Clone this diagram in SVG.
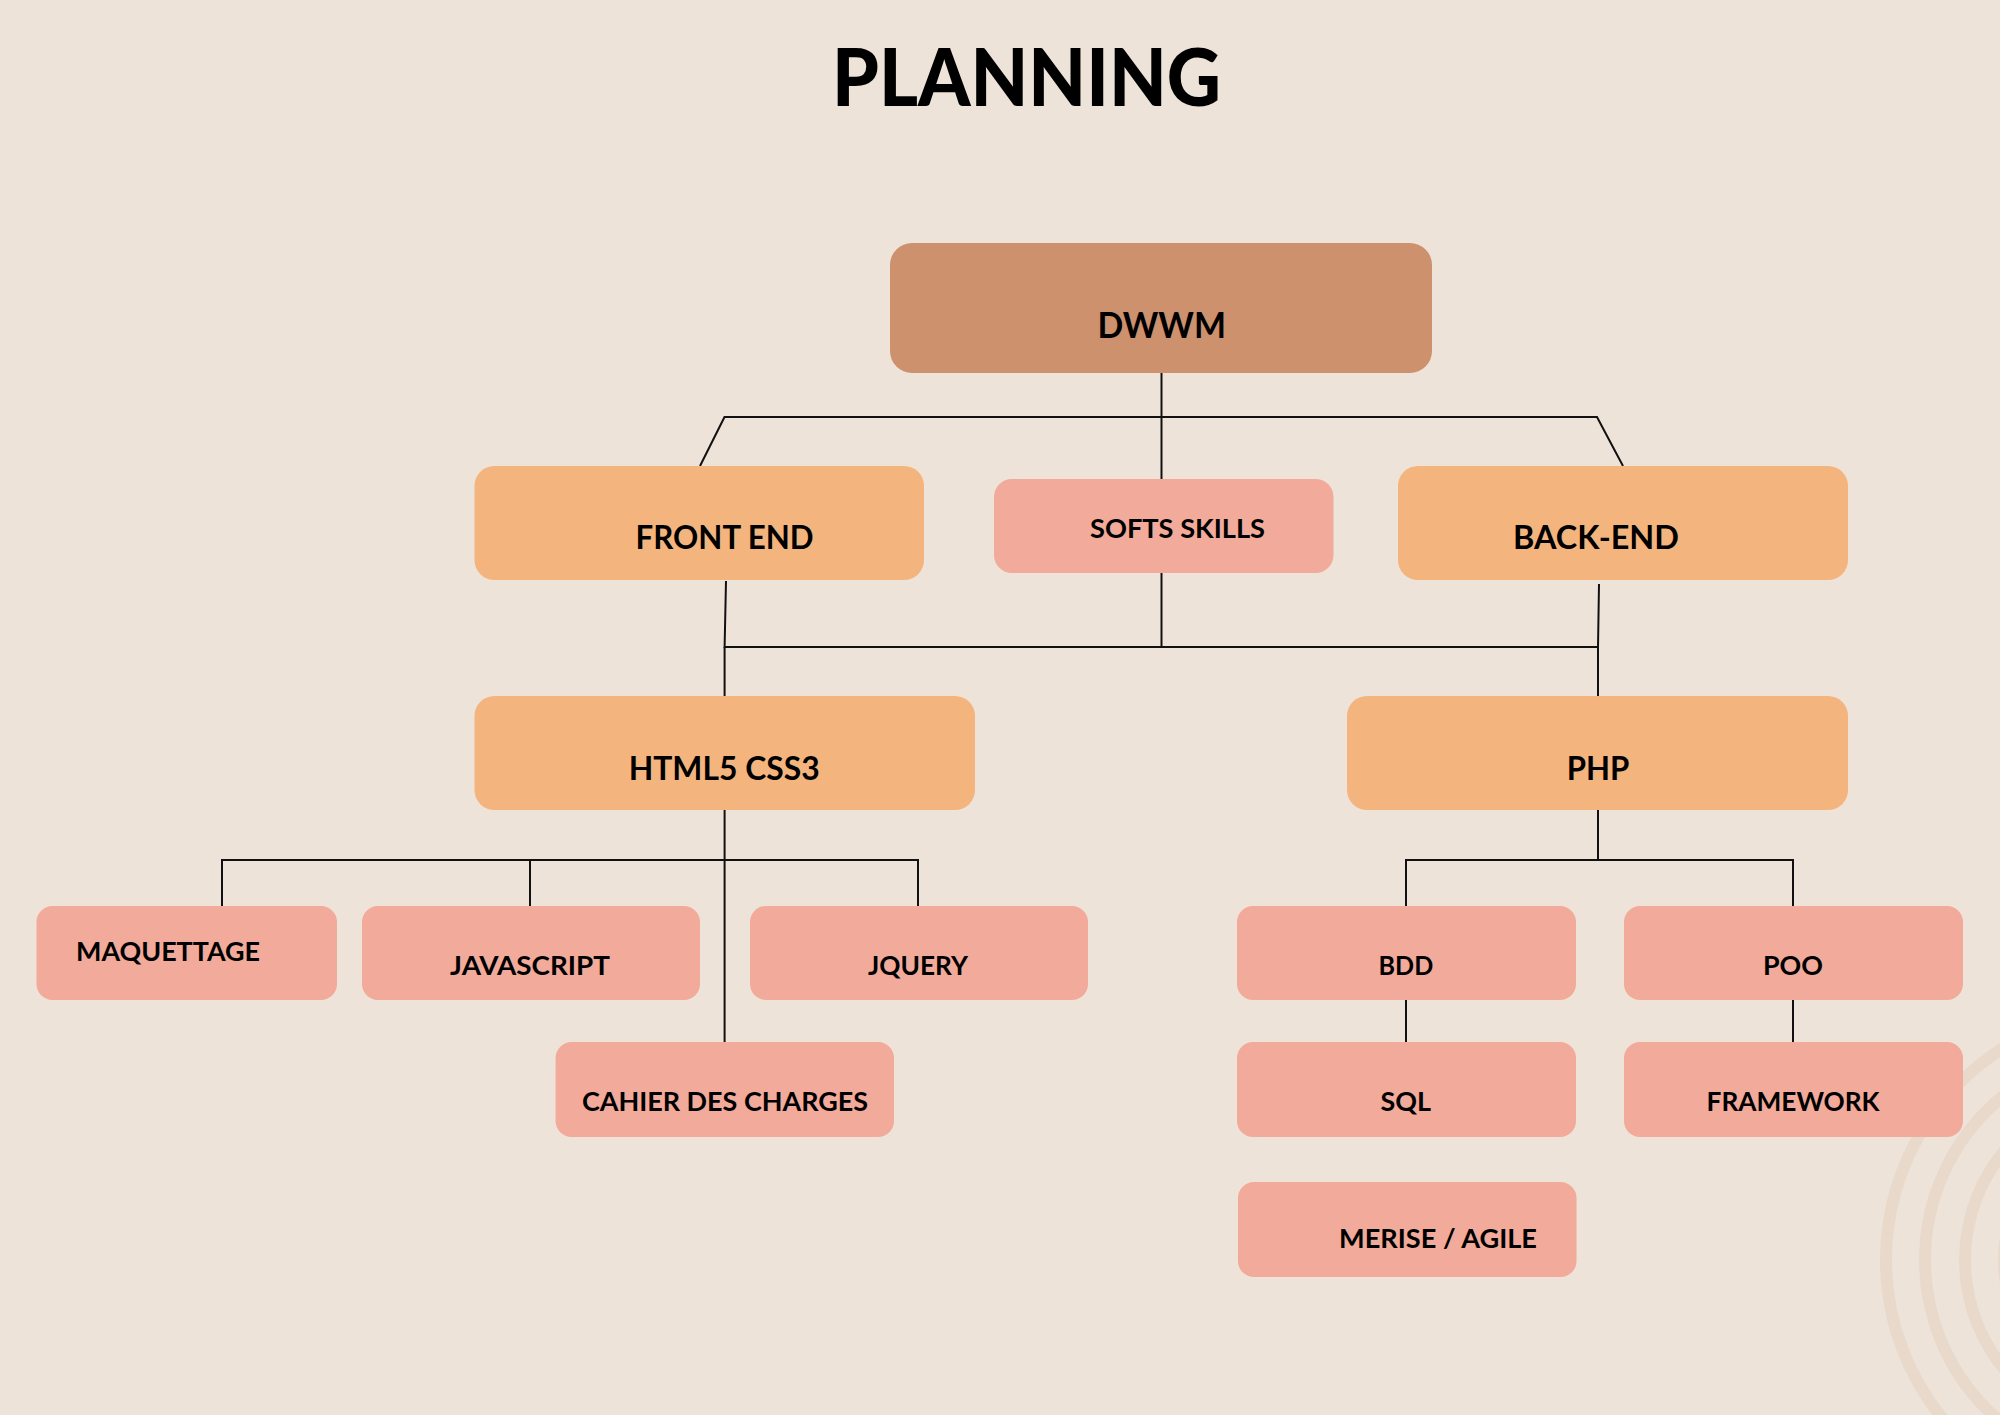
<svg xmlns="http://www.w3.org/2000/svg" width="2000" height="1415" viewBox="0 0 2000 1415">
<style>
  .bg { fill: #EEE3D9; }
  .ring { fill: none; stroke: #E9D9CB; stroke-width: 12; }
  .root { fill: #CD916E; }
  .orange { fill: #F4B47E; }
  .pink { fill: #F2AA9A; }
  text { font-family: Lato, "Liberation Sans", Arial, sans-serif; font-weight: 700; fill: #000; }
  .title { font-size: 80px; font-weight: 900; }
  .l0 { font-size: 37px; }
  .l1 { font-size: 32px; }
  .ss { font-size: 26px; }
  .sm { font-size: 26px; }
  .conn { stroke: #111; stroke-width: 2; fill: none; stroke-linejoin: miter; }
</style>
<rect class="bg" x="0" y="0" width="2000" height="1415"/>
<g id="decor">
  <circle class="ring" cx="2136" cy="1260" r="250"/>
  <circle class="ring" cx="2136" cy="1260" r="211"/>
  <circle class="ring" cx="2136" cy="1260" r="171"/>
  <circle class="ring" cx="2136" cy="1260" r="132"/>
</g>
<text id="title" class="title" x="832" y="106" textLength="389" lengthAdjust="spacingAndGlyphs">PLANNING</text>
<g id="connectors" class="conn">
  <path d="M1161.5 373 V479"/>
  <path d="M700 466 L724.5 417 H1597 L1623 466"/>
  <path d="M726 581 L724.6 647 H1598 L1599 584"/>
  <path d="M1161.5 573 V647"/>
  <path d="M724.6 647 V696"/>
  <path d="M1598 647 V696"/>
  <path d="M724.6 810 V1042"/>
  <path d="M222 906 V860 H918 V906"/>
  <path d="M530 860 V906"/>
  <path d="M1598 810 V860"/>
  <path d="M1406 906 V860 H1793 V906"/>
  <path d="M1406 1000 V1042"/>
  <path d="M1793 1000 V1042"/>
</g>
<g id="node-dwwm">
  <rect class="root" x="890" y="243" width="542" height="130" rx="22"/>
  <text class="l0" x="1097.5" y="338" textLength="128.5" lengthAdjust="spacingAndGlyphs">DWWM</text>
</g>
<g id="node-front-end">
  <rect class="orange" x="474.5" y="466" width="449.5" height="114" rx="20"/>
  <text class="l1" x="635.6" y="549" textLength="178" lengthAdjust="spacingAndGlyphs">FRONT END</text>
</g>
<g id="node-softs-skills">
  <rect class="pink" x="994" y="479" width="339.5" height="94" rx="18"/>
  <text class="ss" x="1090" y="538" textLength="175" lengthAdjust="spacingAndGlyphs">SOFTS SKILLS</text>
</g>
<g id="node-back-end">
  <rect class="orange" x="1398" y="466" width="450" height="114" rx="20"/>
  <text class="l1" x="1513" y="549" textLength="166" lengthAdjust="spacingAndGlyphs">BACK-END</text>
</g>
<g id="node-html5-css3">
  <rect class="orange" x="474.5" y="696" width="500.5" height="114" rx="20"/>
  <text class="l1" x="628.7" y="780" textLength="191" lengthAdjust="spacingAndGlyphs">HTML5 CSS3</text>
</g>
<g id="node-php">
  <rect class="orange" x="1347" y="696" width="501" height="114" rx="20"/>
  <text class="l1" x="1566.7" y="780" textLength="62.6" lengthAdjust="spacingAndGlyphs">PHP</text>
</g>
<g id="node-maquettage">
  <rect class="pink" x="36.5" y="906" width="300.5" height="94" rx="16"/>
  <text class="sm" x="76" y="961" textLength="184" lengthAdjust="spacingAndGlyphs">MAQUETTAGE</text>
</g>
<g id="node-javascript">
  <rect class="pink" x="362" y="906" width="338" height="94" rx="16"/>
  <text class="sm" x="450" y="975" textLength="160" lengthAdjust="spacingAndGlyphs">JAVASCRIPT</text>
</g>
<g id="node-jquery">
  <rect class="pink" x="750" y="906" width="338" height="94" rx="16"/>
  <text class="sm" x="868" y="975" textLength="100" lengthAdjust="spacingAndGlyphs">JQUERY</text>
</g>
<g id="node-cahier-des-charges">
  <rect class="pink" x="555.6" y="1042" width="338.4" height="95" rx="16"/>
  <text class="sm" x="582" y="1111" textLength="286" lengthAdjust="spacingAndGlyphs">CAHIER DES CHARGES</text>
</g>
<g id="node-bdd">
  <rect class="pink" x="1237" y="906" width="339" height="94" rx="16"/>
  <text class="sm" x="1378.6" y="975" textLength="54.6" lengthAdjust="spacingAndGlyphs">BDD</text>
</g>
<g id="node-poo">
  <rect class="pink" x="1624" y="906" width="339" height="94" rx="16"/>
  <text class="sm" x="1763" y="975" textLength="60" lengthAdjust="spacingAndGlyphs">POO</text>
</g>
<g id="node-sql">
  <rect class="pink" x="1237" y="1042" width="339" height="95" rx="16"/>
  <text class="sm" x="1380.6" y="1111" textLength="50.5" lengthAdjust="spacingAndGlyphs">SQL</text>
</g>
<g id="node-framework">
  <rect class="pink" x="1624" y="1042" width="339" height="95" rx="16"/>
  <text class="sm" x="1706.6" y="1111" textLength="173" lengthAdjust="spacingAndGlyphs">FRAMEWORK</text>
</g>
<g id="node-merise-agile">
  <rect class="pink" x="1238" y="1182" width="338.5" height="95" rx="16"/>
  <text class="sm" x="1339" y="1248" textLength="198" lengthAdjust="spacingAndGlyphs">MERISE / AGILE</text>
</g>
</svg>
